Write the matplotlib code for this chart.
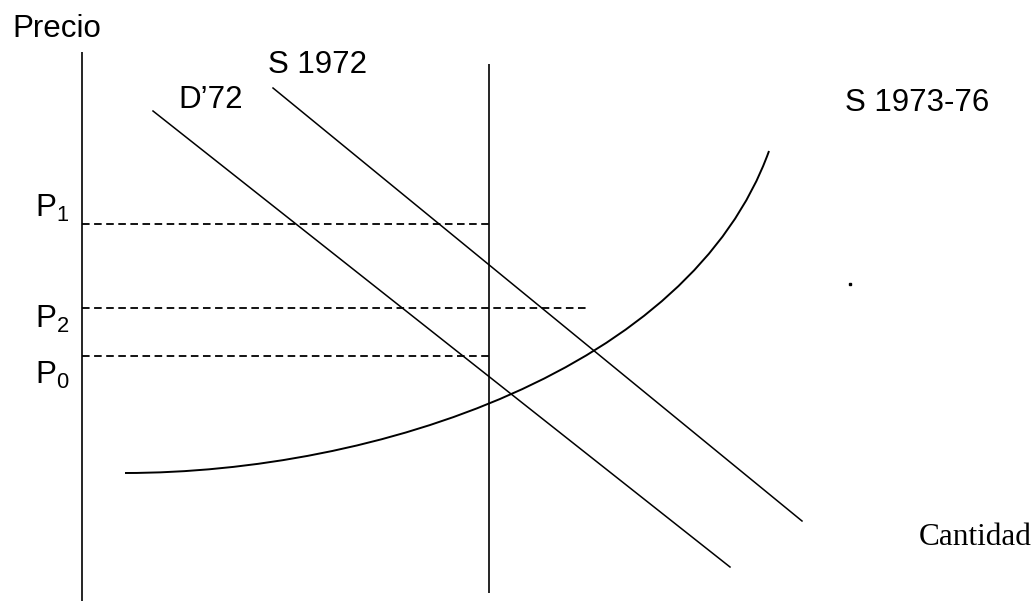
import matplotlib.pyplot as plt
from matplotlib.path import Path
from matplotlib.patches import PathPatch

# --- diagram data (drawing units, y grows downward like the original sketch) ---
axis_x = [82, 82]
axis_y = [52, 601]
qfix_x = [489, 489]          # vertical (fixed quantity) line
qfix_y = [64, 593]

d72_x = [153, 730]
d72_y = [111, 567]
s72_x = [273, 802]
s72_y = [88, 521]

# S 1973-76 curve: cubic bezier nodes
s73_x = [125, 375, 690, 769]
s73_y = [473, 473, 370, 151]

price_names = ["$\\mathregular{P_1}$", "$\\mathregular{P_2}$", "$\\mathregular{P_0}$"]
price_lvls = [224, 308, 356]
price_ends = [490, 587, 490]
price_lbl_y = [217, 328, 384]

plt.rcParams['font.family'] = ['Liberation Sans', 'DejaVu Sans']
plt.rcParams['mathtext.fontset'] = 'custom'
plt.rcParams['mathtext.rm'] = 'Liberation Sans'

fig = plt.figure(figsize=(10.36, 6.01), dpi=100)
ax = fig.add_axes([0, 0, 1, 1])
ax.set_xlim(0, 1036)
ax.set_ylim(601, 0)
ax.axis('off')

ax.plot(axis_x, axis_y, color='black', lw=1.2, solid_capstyle='butt')
ax.plot(qfix_x, qfix_y, color='black', lw=1.2, solid_capstyle='butt')
ax.plot(d72_x, d72_y, color='black', lw=1.1)
ax.plot(s72_x, s72_y, color='black', lw=1.1)

verts = list(zip(s73_x, s73_y))
path = Path(verts, [Path.MOVETO, Path.CURVE4, Path.CURVE4, Path.CURVE4])
ax.add_patch(PathPatch(path, facecolor='none', edgecolor='black', lw=1.4))

for name, lvl, end, ly in zip(price_names, price_lvls, price_ends, price_lbl_y):
    ax.plot([axis_x[0], end], [lvl, lvl], color='black', lw=1.3, dashes=(4.2, 2.5))
    ax.text(35, ly, name, fontsize=22.5, ha='left', va='baseline')

# stray dot from the original
ax.plot([850], [284], marker='s', ms=1.5, color='black', lw=0)

ax.text(12, 37, "Precio", fontsize=22.5, ha='left', va='baseline')
ax.text(268, 73, "S 1972", fontsize=22.5, ha='left', va='baseline')
ax.text(178, 108, "D\u201972", fontsize=22.5, ha='left', va='baseline')
ax.text(845, 111, "S 1973-76", fontsize=22.5, ha='left', va='baseline')
ax.text(919, 545, "Cantidad", fontsize=22.5, ha='left', va='baseline',
        family=['Liberation Serif', 'DejaVu Serif'])

fig.savefig("out.png", dpi=100, facecolor='white')
